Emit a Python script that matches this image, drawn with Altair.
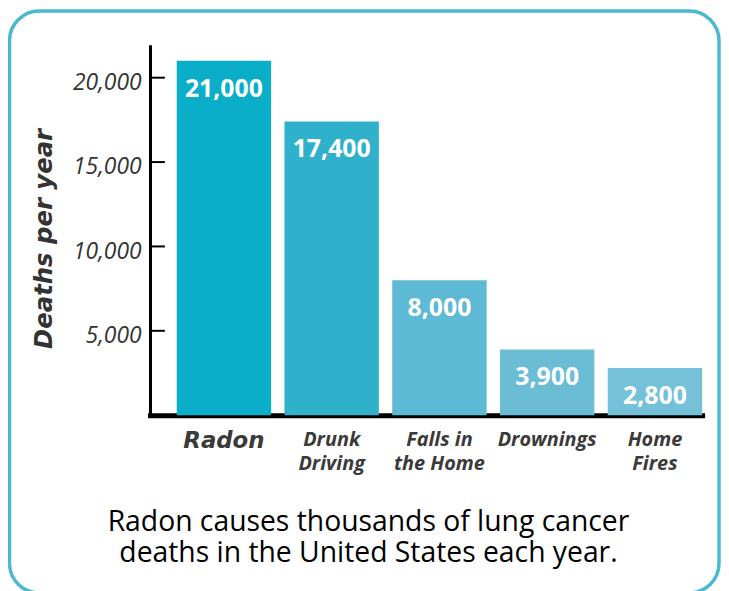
import altair as alt
import pandas as pd

categories = ["Radon", "Drunk Driving", "Falls in the Home", "Drownings", "Home Fires"]
deaths = [21000, 17400, 8000, 3900, 2800]
value_labels = ["21,000", "17,400", "8,000", "3,900", "2,800"]
axis_labels = ["Radon", "Drunk\nDriving", "Falls in\nthe Home", "Drownings", "Home\nFires"]
tick_values = [5000, 10000, 15000, 20000]
caption = ["Radon causes thousands of lung cancer", "deaths in the United States each year."]
y_title = "Deaths per year"
palette = ["#0aaec9", "#2fb1cb", "#5eb9d4", "#6bbdd6", "#75c1d9"]

df = pd.DataFrame({
    "category": categories,
    "deaths": deaths,
    "value_label": value_labels,
    "axis_label": axis_labels,
})
ticks_df = pd.DataFrame({"tick": tick_values})

W, H = 556, 373
x_scale = alt.Scale(domain=categories, paddingInner=0.124, paddingOuter=0.124, align=1)
y_scale = alt.Scale(domain=[0, 21950], nice=False)

x_axis = alt.Axis(labels=False, ticks=False, title=None, grid=False,
                  domainWidth=5, domainColor="black", domainCap="square")
y_axis = alt.Axis(values=tick_values, format=",.0f", ticks=False, tickSize=0,
                  grid=False, labelPadding=9, labelOffset=5,
                  labelFont="Open Sans", labelFontStyle="italic",
                  labelFontSize=23, labelColor="#333333",
                  domainWidth=3, domainColor="black",
                  title=y_title, titleFont="DejaVu Sans", titleFontStyle="italic",
                  titleFontWeight="bold", titleFontSize=24.5, titleColor="#333333",
                  titleAngle=270, titleX=-99, titleY=195,
                  titleAlign="center", titleBaseline="alphabetic")

X = alt.X("category:N", scale=x_scale, sort=categories, axis=x_axis)

base = alt.Chart(df)

bars = base.mark_bar().encode(
    x=X,
    y=alt.Y("deaths:Q", scale=y_scale, axis=y_axis),
    color=alt.Color("category:N", scale=alt.Scale(domain=categories, range=palette), legend=None),
)

tick_rules = alt.Chart(ticks_df).mark_rule(color="black", strokeWidth=2).encode(
    y=alt.Y("tick:Q", scale=y_scale, axis=y_axis),
    x=alt.value(0),
    x2=alt.value(15),
)

values = base.mark_text(font="Open Sans", fontWeight="bold", fontSize=25, color="white",
                        baseline="alphabetic", dy=36).encode(
    x=X,
    y=alt.Y("deaths:Q", scale=y_scale, axis=y_axis),
    text="value_label:N",
)

xlabels_main = base.transform_filter(alt.datum.category == "Radon").mark_text(
    font="DejaVu Sans", fontStyle="italic", fontWeight="bold", fontSize=23,
    color="#3a3a3a", baseline="alphabetic"
).encode(x=X, y=alt.value(406), text="axis_label:N")

xlabels_rest = base.transform_filter(alt.datum.category != "Radon").mark_text(
    font="Open Sans", fontStyle="italic", fontWeight="bold", fontSize=20,
    color="#3a3a3a", baseline="alphabetic", lineBreak="\n", lineHeight=24
).encode(x=X, y=alt.value(404), text="axis_label:N")

border = alt.Chart(alt.Data(values=[{}])).mark_rect(
    cornerRadius=30, fillOpacity=0, stroke="#4bb8d1", strokeWidth=3.5
).encode(
    x=alt.value(-141.5), x2=alt.value(573), y=alt.value(-34), y2=alt.value(552)
)

cap = alt.Chart(alt.Data(values=[{}])).mark_text(
    text=caption, font="Open Sans", fontSize=28.5, color="black",
    align="center", baseline="alphabetic", lineHeight=31
).encode(x=alt.value(220), y=alt.value(490))

chart = alt.layer(border, bars, tick_rules, values, xlabels_main, xlabels_rest, cap).properties(
    width=W, height=H,
    autosize=alt.AutoSizeParams(type="none"),
    padding={"left": 143, "top": 35, "right": 19, "bottom": 175},
    background="white",
).configure_view(strokeOpacity=0)

chart.save("out.html", embed_options={"renderer": "svg", "actions": False})
